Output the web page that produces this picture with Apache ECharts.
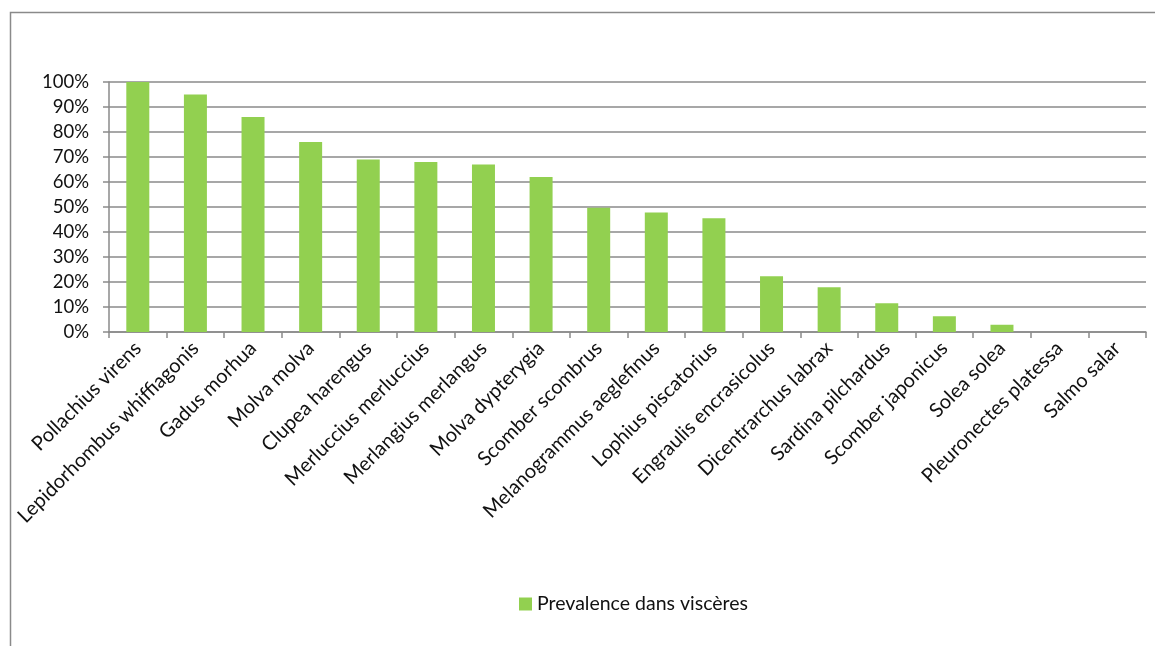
<!DOCTYPE html>
<html>
<head>
<meta charset="utf-8">
<script src="https://cdn.jsdelivr.net/npm/echarts@6/dist/echarts.min.js"></script>
<style>
html,body{margin:0;padding:0;background:#fff;}
#chart{width:1155px;height:646px;}
</style>
</head>
<body>
<div id="chart"></div>
<script>
var categories = ["Pollachius virens","Lepidorhombus whiffiagonis","Gadus morhua","Molva molva","Clupea harengus","Merluccius merluccius","Merlangius merlangus","Molva dypterygia","Scomber scombrus","Melanogrammus aeglefinus","Lophius piscatorius","Engraulis encrasicolus","Dicentrarchus labrax","Sardina pilchardus","Scomber japonicus","Solea solea","Pleuronectes platessa","Salmo salar"];
var prevalence = [1.00,0.95,0.86,0.76,0.69,0.68,0.67,0.62,0.497,0.478,0.455,0.223,0.179,0.115,0.063,0.029,0,0];
var seriesName = "Prevalence dans viscères";

var chart = echarts.init(document.getElementById('chart'));
var font = 'Lato';
chart.setOption({
  animation:false,
  textStyle:{fontFamily:font},
  graphic:[{type:'rect',left:8,top:10,shape:{width:1300,height:800},style:{fill:null,stroke:'#8a8a8a',lineWidth:1.5},silent:true}],
  grid:{left:109,right:9,top:82,bottom:314},
  legend:{
    data:[seriesName],
    left:519, top:594, padding:0,
    itemWidth:13,itemHeight:13,itemGap:6,icon:'rect',
    textStyle:{fontFamily:font,fontSize:19.5,color:'#111'}
  },
  xAxis:{
    type:'category',data:categories,
    axisLine:{lineStyle:{color:'#8a8a8a',width:1.5}},
    axisTick:{show:true,alignWithLabel:false,length:6,lineStyle:{color:'#8a8a8a',width:1.5}},
    axisLabel:{rotate:45,interval:0,fontFamily:font,fontSize:20,color:'#111',margin:13}
  },
  yAxis:{
    type:'value',min:0,max:1,interval:0.1,
    axisLine:{show:true,lineStyle:{color:'#8a8a8a',width:1.5}},
    axisTick:{show:true,inside:false,length:6,lineStyle:{color:'#8a8a8a',width:1.5}},
    splitLine:{show:true,lineStyle:{color:'#8a8a8a',width:1.5}},
    axisLabel:{formatter:function(v){return Math.round(v*100)+'%';},fontFamily:font,fontSize:18.5,color:'#111',margin:20}
  },
  series:[{
    name:seriesName,type:'bar',data:prevalence,barWidth:23,
    itemStyle:{color:'#92D050'}
  }]
});
</script>
</body>
</html>
